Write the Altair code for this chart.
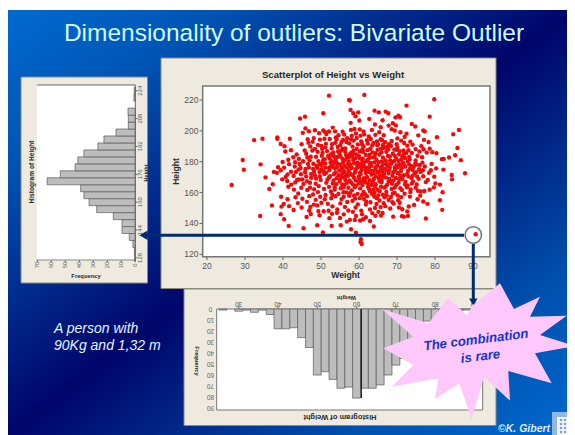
import altair as alt
import pandas as pd

TITLE = "Dimensionality of outliers: Bivariate Outlier"
SCATTER_TITLE = "Scatterplot of Height vs Weight"
NOTE_LINES = ["A person with", "90Kg and 1,32 m"]
STAR_LINES = ["The combination", "is rare"]
CREDIT = "©K. Gibert"

height_bins = [128, 132, 136, 140, 144, 148, 152, 156, 160, 164, 168, 172, 176, 180, 184, 188, 192, 196, 200, 204, 208, 212, 220, 224]
height_freq = [0.5, 0.7, 1.7, 4.3, 9.5, 9.5, 15.7, 27.6, 33, 36.7, 39, 63, 53.6, 43, 41, 36.7, 26.7, 22.4, 13.8, 5, 5, 5.2, 1, 0.7]
height_ticks = [128, 144, 160, 176, 192, 208, 224]
height_freq_ticks = [0, 10, 20, 30, 40, 50, 60, 70]

weight_bins = [26, 30, 32, 34, 36, 38, 40, 42, 44, 46, 48, 50, 52, 54, 56, 58, 60, 62, 64, 66, 68, 70, 72, 74, 76, 78, 80, 82, 84, 86, 88, 90]
weight_freq = [1, 2, 1, 3, 1, 5, 18, 18, 17, 26, 35, 60, 57, 64, 72, 71, 81, 72, 72, 69, 60, 51, 45, 28, 22, 11, 10, 7.6, 4, 2, 1, 1]
weight_ticks = [30, 40, 50, 60, 70, 80, 90]
weight_freq_ticks = [0, 10, 20, 30, 40, 50, 60, 70, 80, 90]

scatter_x_ticks = [20, 30, 40, 50, 60, 70, 80, 90]
scatter_y_ticks = [120, 140, 160, 180, 200, 220]

scatter = [
(52.1,222.8),(50.6,211.4),(57.4,220),(44.5,208),(45.8,209.2),(32.4,194),(34.6,194.9),(38.5,195.8),(38.5,194.9),(41.8,194.9),
(29.4,181.1),(29.7,174.8),(34.1,178.3),(35.4,169.9),(36.4,162.3),(37.3,165.4),(26.5,164.9),(37.1,151.7),(34,144.8),(39.5,157.3),
(39.4,146),(40.3,142.7),(41.5,138.4),(46.2,144.2),(45.4,136.9),(49,138.8),(52.8,138.4),(55.2,138.8),(50.5,134.2),
(61.4,223.3),(57.6,219.6),(79.8,220.5),(72.5,216.4),(78.6,209.2),(70.4,209.9),(70.8,208.8),(57.8,213.6),(58.5,211.4),(59.8,212),
(64.1,213.1),(65.2,212),(67,212.5),(67.7,211.4),(73.9,204.5),(74.8,202.8),(76.9,200.2),(84.8,197.8),(86.3,200.6),(80.5,195.9),
(85.9,188.9),(85.3,184.2),(83.7,182.7),(82.3,181.8),(86.8,181),(87.9,172.5),(84.4,171.4),(84.5,168.6),(81.3,165.2),(82,160.2),
(81.3,155),(81.9,148.8),(77.6,143.2),(69,144.4),(71.3,144.7),(71.8,144.4),(72.9,144.9),(78,152.7),(76.9,154.2),(75.4,155.7),
(74.5,152),(90.7,133),(60.5,129.8),(60.7,126.7),(60.4,128),(59.2,134),(57.9,136.2),(63.9,138),(62.9,141.6),(61.8,144),(61.1,142.7),
(60.3,141.9),(58.9,142.3),(57.6,142.3),(56.8,141.2),(55,143.6),(54.3,149),(55.1,153),(57.2,148.4),(58.4,147.5),(60.6,148.3),
(62.9,149.1),(64.2,150),(65.7,150.6),(65.1,147.5),(66.2,146.8),(64.3,145),(46.9,148.4),(49.3,148),(50.7,147.9),(52,148.2),(43.9,153.2),
(41.6,151.2),(40.2,152.6),(39.6,150.9),(41.2,155.7),(43.3,157),(44,159.4),(45.1,156),(46.3,154),(47.9,158.8),(48.6,155.3),(50.1,153.4),
(51.8,152.7),(53,151.1),(52.7,156.3),(55.4,155.8),(56.9,153.9),(58.3,154.7),(59.7,152.4),(61.3,155.9),(63,153.7),(64.7,156.4),(66.5,153.1),
(67.8,155.2),(69.1,152.9),(70.5,150.3),(71.4,149.2),(72.7,147.8),(73.1,151),(68.4,157.2),(70.2,158.1),(72,159.3),(73.5,160.4),(74.9,163.2),
(76.3,160.7),(77.2,161),(78.6,161.9),(79.7,163.4),(80.1,166),(76.1,158),(66.3,158.6),(62.1,157.7),(60.2,156.4),(57.4,157.9),(54.6,159.2),
(51.2,158.4),(49.2,160.3),(46.4,161.7),(44.8,163.1),(42.9,161.9),(41.4,163.8),(42.2,165.2),(39.8,168.6),(40.7,170.1),(38.4,172.8),(39.4,174.5),
(41.2,171.7),(42.8,170.8),(40.3,176.2),(43.1,176.9),(41.6,178.4),(44.4,178.5),(42.7,182.9),(44.2,181.8),(45.3,180.3),(43.6,184.7),(42.1,187.5),
(40.6,186.6),(39.4,191.5),(40.4,190.1),(44.9,191.3),(46.5,194.6),(47.8,192.9),(47.2,189.9),(46.1,185.2),(47.3,183.3),(45.8,173.2),(44.7,171.9),
(47.4,169.6),(46.3,167.4),(48.6,165.7),(49.9,168.2),(46.8,176.3),(47.9,175.4),(48.2,173.6),(48.8,177.3),(49.3,180.4),(50.2,183.8),(49.1,186.4),
(50.3,188.4),(49.2,190.9),(51.3,191.6),(49.7,194.3),(48.1,195.3),(49.5,198.5),(50.6,200.2),(51.4,197.9),(53.1,202.1),(54.6,197.2),(52.3,194.7),
(53.8,192.3),(55.7,199.5),(56.9,195.2),(55.1,190.8),(57.4,191.9),(56.4,188.6),(58.3,189.8),(57.9,200.6),(58.8,201.2),(60.2,201),(61.4,197.7),
(59.4,195.4),(60.6,193.2),(62.3,191.8),(63.1,194.7),(64.3,197.4),(63.4,200.6),(65.3,199.1),(66.5,197.2),(67.8,203.4),(68.9,204.9),(69.7,203.6),
(69.4,200.2),(70.9,199.1),(72,196.1),(71.1,193.7),(72.7,190.4),(73.5,193),(74.9,188.2),(75.9,186.7),(76.4,190.1),(77.1,194.2),(78.3,192.8),
(78.6,188.4),(79.3,186.2),(80.4,185.6),(81.8,181.7),(79.1,178.6),(80.3,175.7),(82.2,174.9),(78.4,172.8),(79.8,170.3),(78.1,168.2),(76.9,170.6),
(75.7,168.9),(74.6,172.4),(73.8,169.4),(75.2,165.3),(77.6,166.8),(72.6,163.4),(71.3,161.7),(69.8,164.9),(68.6,162.4),(67.2,160.5),(65.4,160.9),
(64.1,159.8),(62.7,162.2),(61.2,160.4),(59.6,159.2),(58.1,161.4),(56.7,160.1),(55.2,162.8),(53.6,161.9),(52.1,163.7),(50.8,162.4),(51.4,166.3),
(53.1,165.9),(54.9,167.1),(56.2,165.1),(57.9,166.6),(59.3,164.7),(60.8,167.4),(62.4,165.8),(64.2,163.9),(65.9,166.7),(67.4,165.2),(69.1,167.9),
(70.6,168.7),(72.2,167.1),(71.8,171.3),(70.2,172.6),(68.8,170.9),(67.1,169.7),(65.5,171.2),(63.9,168.8),(62.1,170.1),(60.4,171.8),(58.7,169.6),
(57.1,170.9),(55.6,172.4),(54.1,169.3),(52.4,170.7),(50.9,172.1),(50.1,175.2),(52.2,174.6),(53.8,173.1),(55.4,175.9),(57.3,174.2),(58.9,172.9),
(60.7,174.7),(62.6,173.4),(64.4,175.3),(66.1,173.8),(67.8,172.5),(69.5,174.6),(71.2,175.8),(72.9,174.1),(74.4,176.7),(75.8,175.2),(77.3,176.9),
(73.2,178.3),(71.6,179.4),(69.9,177.7),(68.1,176.2),(66.4,178.4),(64.8,177.6),(63.1,179.2),(61.4,177.1),(59.7,176.4),(57.8,178.1),(56.1,177.4),
(54.4,178.8),(52.7,177.2),(51.1,178.9),(50.6,181.2),(52.3,182.1),(53.9,180.7),(55.6,181.9),(57.3,180.4),(59.1,182.2),(60.9,180.8),(62.7,182.4),
(64.6,181.1),(66.3,182.7),(68.2,180.9),(69.8,182.1),(71.4,183.4),(73.3,181.6),(74.9,180.8),(76.6,182.9),(72.4,185.6),(70.7,186.9),(68.9,185.2),
(67.2,186.4),(65.4,184.7),(63.6,186.1),(61.8,184.4),(60.2,186.7),(58.4,185.1),(56.6,184.3),(54.8,185.8),(53.2,184.2),(51.6,186.9),(52.8,188.7),
(54.4,189.6),(59.4,188.3),(61.2,189.9),(63,188.4),(64.8,190.6),(66.6,188.9),(68.4,190.2),(70.1,189.1),(66.9,192.7),(68.6,193.4),(65.7,194.6),
(59.2,198.3),(61.2,199.6),(53.2,186.1),(55.3,170.4),(56.4,168.3),(58.1,175.9),(59.6,179.3),(61.7,175.2),(63.3,171.6),(65.2,169.2),(66.8,175.4),
(68.4,178.6),(70.4,180.4),(54.2,176.5),(56.9,182.9),(58.6,187.1),(62.2,187.5),(64.1,183.4),(66,180.2),(67.6,183.8),(60,183.6),(57.7,172.1),
(59.9,170.3),(61.6,168.5),(63.6,166.9),(65.8,163.8),(53.6,163.3),(55.9,163.4),(57.2,163.1),(59.1,167.9),(60.3,162.7),(62.9,160.9),(64.9,161.8),
(55,178.1),(56.8,176.2),(58.5,181.2),(60.4,178.5),(62.4,176.3),(63.9,172.8),(65.6,174.3),(67.4,177.3),(69,173.2),(70.9,170.9),(72.7,172.2),
(74.1,170.8),(51.7,168.4),(53.3,167.8),(49.7,170.6),(48.4,171.2),(50.2,177.8),(49.4,164.2),(47.1,163.2),(45.4,165.6),(43.7,168.2),(42.1,173.5),
(44.1,174.9),(37.6,173.4),(38.7,176.4),(39.9,179.8),(41.4,181.3),(43.2,179.7),(46.6,178.6),(45.7,187.3),(46.8,199.8),(45.2,198.7),(45.9,201.6),
(48.4,200.4),(51.1,199.2),(53.7,199.7),(55.8,194.1),(63.8,192.2),(60.8,191.4),(67.4,189.7),(69.3,187.8),(71.7,187.3),(73.9,185.7),(75.4,183.9),
(77.8,185.9),(76.2,173.4),(78.9,174.5),(74.2,167.2),(73.6,162.1),(70.3,155.1),(68.8,153.8),(66.9,151.2),(64.6,152.6),(61.8,152.2),(59.1,150.4),
(56.3,150.7),(54.2,146.9),(52.2,143.4),(49.6,145.3),(47.3,146.1),(65.8,145.1),(68.2,149.7),(48.1,152.2),(47.2,150.7),(44.9,150.3),(42.8,148.7),
(60.8,145.9),(63.5,146.7),(75.5,161.2),(73.4,157.4),(70.7,153.4),(66.7,163.2),(64.4,165.4),(68.3,167.4),(74.8,178.8),(76.7,179.4),(72.2,176.8),
(70.5,184.8),(67.9,174.7),(63.5,174.1),(61,181.9),(59,173.6),(54.7,183.4),(52.5,179.6),(50.4,185.8),(53.1,176.7),(51.2,176.2),(48.7,183.2),
(47.7,187.3),(46.7,192.3),(64.9,187.7),(66.3,190.9),(62.9,178.4),(60.1,169.2),(57.6,183.2),(55.4,187.2),(56.7,192.8),(58.6,193.7),(72.5,198.2),
(75.6,197.1),(77.3,199.7),(64.2,204.1),(65.7,202.4),(68.6,201.1),(66.2,206.9),(69.6,208.7),(60.1,206.7),(59.1,209.4),(62.7,207.8),(57.8,205.2),
(53.4,171.9),(54.8,174.2),(56.2,173.4),(57.7,176.7),(59.2,175.3),(60.3,173.1),(61.8,172.7),(63.2,177.2),(64.9,173.2),(66.6,172.1),(52.9,180.3),
(54.1,182.9),(55.8,179.6),(57.1,178.7),(58.7,179.2),(60.6,176.8),(62,180.3),(63.7,182.8),(65.2,179.7),(67,180.8),(68.6,179.4),(70.2,176.3),
(71.9,177.6),(73.7,177.3),(51.4,172.9),(52.1,169.7),(54.6,171.2),(56.6,171.1),(58.3,171.2),(59.8,167.3),(61.3,169.4),(62.8,168),(64.4,170.6),
(66.3,170.4),(68,168.9),(69.7,169.5),(71.4,168.9),(73,170.5),(53.7,175.8),(55.8,174.6),(57.2,172.7),(59.5,177.8),(61.2,179.1),(62.6,175.1),
(64.3,176.4),(66,176.8),(67.3,178.9),(69.2,180.3),(70.8,178.2),(72.8,180.2),(54.5,186.8),(56.4,186.4),(57.6,184.9),(59.3,184.7),(61.1,186.3),
(62.8,184.6),(64.4,185.6),(65.9,186.2),(67.7,188.1),(69.4,183.8),(71.1,181.4),(55.1,183.8),(53.6,178.9),(52.2,176.1),(50.7,173.7),(49.6,173.4),
(49,175.9),(50.4,179.6),(51.9,183.7),(56,169.9),(57.5,167.8),(58.9,163.4),(60.9,164.9),(62.4,163.6),(63.8,161.9),(65.4,167.3),(67,163.9),
(68.7,165.7),(70.4,166.4),(72.1,165.2),(73.9,165.9),(75.3,170.4),(76.8,174.5),(74.1,174.8),(75.1,178.2),(73.2,183.1),(71.8,185.1),(69.9,191.4),
(67.9,191.3),(66.1,193.9),(64.7,193.1),(62.6,196.4),(60.4,196.9),(58.1,196.8),(56.1,197.6),(54.1,194.6),(52.9,191.3),(51.1,189.3),(55.6,165.3),
(54,165.4),(52.6,160.7),(53.8,157.6),(56,157.3),(58.7,158.1),(60.8,158.4),(63.4,159.2),(65.1,158.2),(67.3,158.1),(69.4,159.8),(71.1,157.1),
(59,156.2),(61.9,154.1),(65.4,154.9),(49.8,157.3),(48.2,162.2),(47.1,166.4),(48.7,169.1),(47.4,172.1),(46.1,170.5),(45.1,168.6),(43.4,173.4),
(52.6,184.7),(55.7,188.4),(58,186.1),(60.9,188.1),(63.5,190.7),(65.8,188.5),(68.1,183.4),(70,187.7),(72.1,182.4),(50.1,190.3),(48.4,188.3),
(49.6,178.3),(51,181.7),(53.5,183),(56.3,181.3),(58.2,183.6),(60.3,182),(62.3,181.1),(64,179.6),(65.7,176.1),(67.2,174.4),(69.4,176.2),(71,173.9),
(73.4,175.5),(75,173.3),(76,177.9),(55,168.6),(56.8,166.4),(58.4,165.2),(60,166.1),(61.7,166.6),(63.3,165.1),(66,168.2),(67.8,167.3),(69.4,163.2),
(70.9,162.8),(72.8,164.6),(53,158.7),(55.9,160.2),(57.6,159.6),(61.6,158.9),(64,157.4),(66.7,156.9),(68.9,159.4),(51,155.7),(49,151.7),(46.9,157.7),
(52.9,146.2),(56,145.9),(59.2,144.8),(44.6,175.9),(45.9,175.3),(47,180.9),(48,178.7),(46.4,182.8),(44.2,168.5),(41.1,167.5),(43.2,166.6),(55.4,192.8),
(57.9,194.4),(62.1,193.9),(65,191.4),(70.1,195.1),(71.9,192.1),(74.1,191.1),(73,187.4),(77,188.1),(59.7,191.2),(53.9,195.8),(50.9,194.9),(52.1,199.6),
]

BG = [{}]
LAYERS = []


def add(c):
    LAYERS.append(c)


def box(x0, y0, x1, y1, fill=None, stroke=None, sw=1):
    kw = {"strokeWidth": sw} if stroke else {"strokeWidth": 0}
    if stroke:
        kw["stroke"] = stroke
    if fill is not None:
        kw["fill"] = fill
    else:
        kw["fillOpacity"] = 0
        kw["fill"] = "white"
    add(alt.Chart(alt.Data(values=BG)).mark_rect(**kw).encode(
        x=alt.value(x0 - 8), x2=alt.value(x1 - 8), y=alt.value(y0 - 8), y2=alt.value(y1 - 8)))


def label(s, x, y, size=9, color="#444444", angle=0, weight="normal", style="normal", align="center", font="Liberation Sans"):
    add(alt.Chart(alt.Data(values=BG)).mark_text(
        text=s, fontSize=size, color=color, angle=angle, fontWeight=weight, fontStyle=style,
        align=align, baseline="middle", font=font).encode(x=alt.value(x - 8), y=alt.value(y - 8)))


def line(x0, y0, x1, y1, color, w):
    add(alt.Chart(alt.Data(values=BG)).mark_rule(color=color, strokeWidth=w).encode(
        x=alt.value(x0 - 8), x2=alt.value(x1 - 8), y=alt.value(y0 - 8), y2=alt.value(y1 - 8)))


def sc(dom, a, b):
    return alt.Scale(domain=dom, range=[a - 8, b - 8], nice=False, zero=False)


# slide background
box(8, 10, 575, 435, fill=alt.LinearGradient(
    gradient="linear", x1=0, y1=0, x2=1, y2=1,
    stops=[alt.GradientStop(color="#006ACF", offset=0), alt.GradientStop(color="#0055B5", offset=0.18),
           alt.GradientStop(color="#00056A", offset=0.5), alt.GradientStop(color="#0050AE", offset=0.8),
           alt.GradientStop(color="#006ACF", offset=1)]))
label(TITLE, 294, 34, size=24.5, color="#CFFBFF")
PANEL = "#EEEAE0"

# scatter panel
box(161, 58, 496, 288.5, fill=PANEL, stroke="#8A8A80", sw=1)
box(202.7, 86, 490, 256.7, fill="white", stroke="#777777", sw=1.5)
sw = sc([20, 90], 207, 473)
sh = sc([120, 220], 254.3, 100)
tdf = pd.DataFrame({"v": scatter_x_ticks})
add(alt.Chart(tdf).mark_rule(color="#666666").encode(x=alt.X("v:Q", scale=sw, axis=None), y=alt.value(256.7 - 8), y2=alt.value(260 - 8)))
add(alt.Chart(tdf).mark_text(fontSize=8.5, color="#555555", font="Liberation Sans").encode(
    x=alt.X("v:Q", scale=sw, axis=None), y=alt.value(265.5 - 8), text="v:Q"))
tdf = pd.DataFrame({"v": scatter_y_ticks})
add(alt.Chart(tdf).mark_rule(color="#666666").encode(y=alt.Y("v:Q", scale=sh, axis=None), x=alt.value(199.5 - 8), x2=alt.value(202.7 - 8)))
add(alt.Chart(tdf).mark_text(fontSize=8.5, color="#555555", font="Liberation Sans", align="right").encode(
    y=alt.Y("v:Q", scale=sh, axis=None), x=alt.value(198.5 - 8), text="v:Q"))
label(SCATTER_TITLE, 333, 75, size=9.6, weight="bold", color="#2A2A2A")
label("Weight", 345.5, 275, size=8.6, weight="bold", color="#2A2A2A")
label("Height", 175.5, 171.5, size=8.6, weight="bold", color="#2A2A2A", angle=270)
sdf = pd.DataFrame(scatter, columns=["w", "h"])
add(alt.Chart(sdf).mark_circle(size=19, color="#F20A0A", opacity=1).encode(
    x=alt.X("w:Q", scale=sw, axis=None), y=alt.Y("h:Q", scale=sh, axis=None)))

# left histogram (turned on its side)
box(21, 77, 147.5, 283, fill=PANEL, stroke="#8A8A80", sw=1)
box(37, 85, 135.3, 260, fill="white")
line(37, 85, 135.3, 85, "#666666", 1)
line(37, 260, 135.3, 260, "#888888", 1)
fx = sc([0, 70], 135.3, 37.3)
fy = sc([128, 224], 257.9, 90.7)
hdf = pd.DataFrame({"h": height_bins, "f": height_freq})
hdf["lo"] = hdf["h"] - 2
hdf["hi"] = hdf["h"] + 2
hdf["z"] = 0
add(alt.Chart(hdf).mark_rect(fill="#BDBDBD", stroke="#5A5A5A", strokeWidth=0.7).encode(
    x=alt.X("z:Q", scale=fx, axis=None), x2="f:Q",
    y=alt.Y("lo:Q", scale=fy, axis=None), y2="hi:Q"))
line(135.3, 85, 135.3, 260, "#666666", 1)
tdf = pd.DataFrame({"v": height_ticks})
add(alt.Chart(tdf).mark_rule(color="#666666").encode(y=alt.Y("v:Q", scale=fy, axis=None), x=alt.value(135.3 - 8), x2=alt.value(137.5 - 8)))
add(alt.Chart(tdf).mark_text(fontSize=6, color="#555555", angle=270, font="Liberation Sans").encode(
    y=alt.Y("v:Q", scale=fy, axis=None), x=alt.value(140 - 8), text="v:Q"))
tdf = pd.DataFrame({"v": height_freq_ticks})
add(alt.Chart(tdf).mark_rule(color="#666666").encode(x=alt.X("v:Q", scale=fx, axis=None), y=alt.value(260 - 8), y2=alt.value(262 - 8)))
add(alt.Chart(tdf).mark_text(fontSize=6, color="#666666", angle=270, font="Liberation Sans").encode(
    x=alt.X("v:Q", scale=fx, axis=None), y=alt.value(265 - 8), text="v:Q"))
label("Histogram of Height", 31.5, 172, size=6.6, weight="bold", color="#2A2A2A", angle=270)
label("Height", 146, 173, size=5.5, weight="bold", color="#2A2A2A", angle=270)
label("Frequency", 86, 275.5, size=5.8, weight="bold", color="#2A2A2A")

# bottom histogram (turned upside down)
box(184, 289, 496, 425.5, fill=PANEL, stroke="#8A8A80", sw=1)
box(216.7, 309, 482.7, 410, fill="white", stroke="#777777", sw=1)
bx = sc([40, 90], 278, 474.5)
by = sc([0, 90], 309, 408)
wdf = pd.DataFrame({"w": weight_bins, "f": weight_freq})
wdf["lo"] = wdf["w"] - 1
wdf["hi"] = wdf["w"] + 1
wdf["z"] = 0
add(alt.Chart(wdf).mark_rect(fill="#BDBDBD", stroke="#5A5A5A", strokeWidth=0.7).encode(
    x=alt.X("lo:Q", scale=bx, axis=None), x2="hi:Q",
    y=alt.Y("z:Q", scale=by, axis=None), y2="f:Q"))
line(361.3, 309, 361.3, 398, "#111111", 1.2)
tdf = pd.DataFrame({"v": weight_ticks})
add(alt.Chart(tdf).mark_rule(color="#666666").encode(x=alt.X("v:Q", scale=bx, axis=None), y=alt.value(306.5 - 8), y2=alt.value(309 - 8)))
add(alt.Chart(tdf).mark_text(fontSize=6.5, color="#555555", angle=180, font="Liberation Sans").encode(
    x=alt.X("v:Q", scale=bx, axis=None), y=alt.value(303.5 - 8), text="v:Q"))
tdf = pd.DataFrame({"v": weight_freq_ticks})
add(alt.Chart(tdf).mark_text(fontSize=6.5, color="#666666", angle=180, font="Liberation Sans").encode(
    y=alt.Y("v:Q", scale=by, axis=None), x=alt.value(210.5 - 8), text="v:Q"))
label("Histogram of Weight", 340, 416.5, size=7.5, weight="bold", color="#2A2A2A", angle=180)
label("Weight", 346.5, 297.5, size=5.8, weight="bold", color="#2A2A2A", angle=180)
label("Frequency", 197, 361, size=5.8, weight="bold", color="#2A2A2A", angle=90)

# connecting arrows and marker ring
NAVY = "#002A72"
line(146, 235.3, 464, 235.3, NAVY, 3)
line(473.3, 244, 473.3, 300, NAVY, 3)
add(alt.Chart(alt.Data(values=BG)).mark_point(shape="triangle-left", size=90, filled=True, color=NAVY, opacity=1).encode(
    x=alt.value(143.5 - 8), y=alt.value(235.3 - 8)))
add(alt.Chart(alt.Data(values=BG)).mark_point(shape="triangle-down", size=70, filled=True, color=NAVY, opacity=1).encode(
    x=alt.value(473.3 - 8), y=alt.value(302 - 8)))
add(alt.Chart(alt.Data(values=BG)).mark_point(shape="circle", size=272, filled=False, color="#777777", strokeWidth=1.6, opacity=1).encode(
    x=alt.value(473.3 - 8), y=alt.value(235 - 8)))

# star callout (path units are pixels, around the callout's centre)
star_outline = [(960, -5), (1002, 72), (1080, 35), (1050, 95), (1160, 92), (1080, 150), (1185, 183), (1065, 205),
                (1115, 295), (985, 258), (990, 347), (912, 275), (875, 403), (838, 295), (765, 342), (775, 280),
                (635, 305), (700, 240), (610, 190), (700, 155), (605, 72), (745, 115), (805, 40), (860, 90), (880, 60)]
CX, CY = 478.0, 345.0
path = "M" + " L".join(f"{180 + a / 3 - CX:.1f},{285 + b / 3 - CY:.1f}" for a, b in star_outline) + " Z"
add(alt.Chart(alt.Data(values=BG)).mark_point(shape=path, size=4, filled=True, fill="#FFC8FB", strokeWidth=0, opacity=1).encode(
    x=alt.value(CX - 8), y=alt.value(CY - 8)))
label(STAR_LINES[0], 476, 340, size=13.2, color="#1536C8", angle=353, weight="bold", style="italic")
label(STAR_LINES[1], 480.5, 356.5, size=13.2, color="#1536C8", angle=353, weight="bold", style="italic")

label(NOTE_LINES[0], 54, 329, size=14, color="#E4F6FF", style="italic", align="left")
label(NOTE_LINES[1], 54, 345.5, size=14, color="#E4F6FF", style="italic", align="left")
label(CREDIT, 498, 429, size=10.5, color="#DCEBFA", style="italic", weight="bold", align="left")

# logo
box(552, 412, 575, 435, fill="#8FB8E6")
box(557, 417, 575, 435, fill="#F2F7FC")
dots = pd.DataFrame([{"a": a, "b": b} for a in range(4) for b in range(4)])
add(alt.Chart(dots).mark_circle(size=7, color="#7FA0CC", opacity=1).encode(
    x=alt.X("a:Q", scale=sc([0, 3], 561, 573), axis=None), y=alt.Y("b:Q", scale=sc([0, 3], 420, 432), axis=None)))

chart = alt.layer(*LAYERS).resolve_scale(x="independent", y="independent").properties(
    width=559, height=427, padding=0, autosize=alt.AutoSizeParams(type="none"), background="white"
).configure_view(stroke=None)
chart.save("out.html", embed_options={"renderer": "svg", "actions": False})
